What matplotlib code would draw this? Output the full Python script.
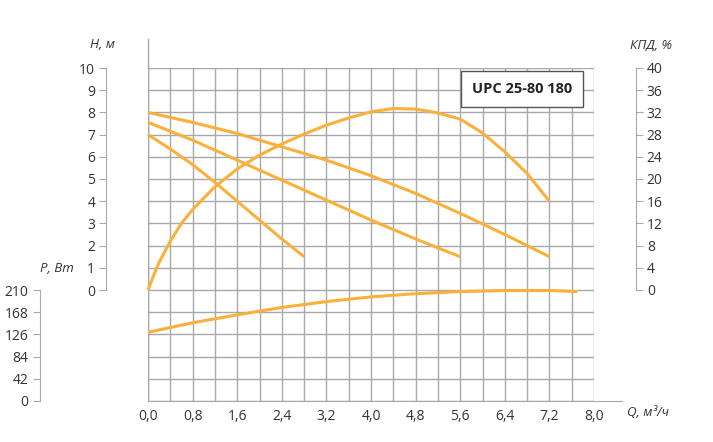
import matplotlib.pyplot as plt
import numpy as np

plt.rcParams['font.family'] = ['Open Sans', 'DejaVu Sans']

# H-Q curves (m)
q_a = [0, 0.4, 0.8, 1.2, 1.6, 2.0, 2.4, 2.8]
h_a = [7.0, 6.35, 5.65, 4.85, 4.0, 3.15, 2.3, 1.5]
q_b = [0, 0.8, 1.6, 2.4, 3.2, 4.0, 4.8, 5.6]
h_b = [7.55, 6.75, 5.85, 4.95, 4.05, 3.15, 2.3, 1.5]
q_c = [0, 0.8, 1.6, 2.4, 3.2, 4.0, 4.8, 5.6, 6.4, 7.2]
h_c = [8.0, 7.55, 7.05, 6.45, 5.85, 5.15, 4.35, 3.45, 2.5, 1.5]
# efficiency (%)
q_eff = [0, 0.1, 0.2, 0.4, 0.6, 0.8, 1.2, 1.6, 2.0, 2.4, 2.8, 3.2, 3.6, 4.0, 4.4, 4.8,
         5.2, 5.6, 6.0, 6.4, 6.8, 7.2]
eff = [0, 2.6, 5, 8.8, 12, 14.5, 18.6, 21.8, 24.3, 26.3, 28.1, 29.7, 31.0, 32.1, 32.7, 32.6,
       31.9, 30.8, 28.3, 24.9, 21.0, 16]
# power (W)
q_p = [0, 0.8, 1.6, 2.4, 3.2, 4.0, 4.8, 5.6, 6.4, 7.2, 7.7]
p_w = [130, 148, 163, 177, 188, 197, 203, 207, 209, 209, 207]

x_ticks = np.arange(0, 8.01, 0.8)
x_labels = [f"{v:.1f}".replace('.', ',') for v in x_ticks]

W, H = 713, 442
fig = plt.figure(figsize=(W / 100, H / 100), dpi=100)
L = 148 / W
Wd = 446 / W
ax_h = fig.add_axes([L, (H - 290) / H, Wd, 222 / H])
ax_p = fig.add_axes([L, (H - 401) / H, Wd, 111 / H], sharex=ax_h)
ax_e = ax_h.twinx()

orange = '#FBB03B'
grid_c = '#a8a8a8'
txt_c = '#333333'

for ax in (ax_h, ax_p):
    ax.set_xlim(0, 8)
    ax.set_xticks(np.arange(0, 8.01, 0.4))
    ax.grid(axis='x', color=grid_c, lw=1)
    for s in ('top', 'right'):
        ax.spines[s].set_visible(False)
    ax.spines['left'].set_color(grid_c)
    ax.spines['bottom'].set_visible(False)
    ax.tick_params(axis='x', length=0, labelbottom=False)
    ax.set_axisbelow(True)

ax_h.set_ylim(0, 10)
ax_p.set_ylim(0, 210)
ax_e.set_ylim(0, 40)

for y in range(0, 11):
    ax_h.axhline(y, color=grid_c, lw=1, zorder=0)
for y in range(0, 211, 42):
    ax_p.axhline(y, color=grid_c, lw=1, zorder=0)

# left offset axes
ax_h.spines['left'].set_position(('outward', 30))
ax_h.set_yticks(range(0, 11))
ax_p.spines['left'].set_position(('outward', 78))
ax_p.set_yticks(range(0, 211, 42))
for ax in (ax_h, ax_p):
    ax.tick_params(axis='y', length=5, color=grid_c, labelsize=10, labelcolor=txt_c, pad=3)
    ax.axvline(0, color=grid_c, lw=1, zorder=0)
ax_h.plot([0, 0], [10, 11.3], color=grid_c, lw=1, clip_on=False)

ax_e.spines['right'].set_position(('outward', 30))
ax_e.spines['right'].set_color(grid_c)
for s in ('top', 'left', 'bottom'):
    ax_e.spines[s].set_visible(False)
ax_e.set_yticks(range(0, 41, 4))
ax_e.tick_params(axis='y', length=5, color=grid_c, labelsize=10, labelcolor=txt_c, pad=3)

# x axis labels on lower axes
ax_p.spines['bottom'].set_visible(True)
ax_p.spines['bottom'].set_color(grid_c)
ax_p.spines['bottom'].set_bounds(0, 8.5)
ax_p.tick_params(axis='x', labelbottom=True, labelsize=10, labelcolor=txt_c, pad=6)
ax_p.set_xticks(np.arange(0, 8.01, 0.4))
ax_p.set_xticklabels([x_labels[i // 2] if i % 2 == 0 else '' for i in range(21)])

kw = dict(color=orange, lw=2.2, solid_capstyle='butt', solid_joinstyle='round', clip_on=False)
ax_h.plot(q_a, h_a, **kw)
ax_h.plot(q_b, h_b, **kw)
ax_h.plot(q_c, h_c, **kw)
ax_e.plot(q_eff, eff, **kw)
ax_p.plot(q_p, p_w, **kw)

fig.text(90 / W, 1 - 45 / H, 'H, м', style='italic', fontsize=9.5, color=txt_c, va='center')
fig.text(40 / W, 1 - 268 / H, 'P, Вт', style='italic', fontsize=9.5, color=txt_c, va='center')
fig.text(630 / W, 1 - 45 / H, 'КПД, %', style='italic', fontsize=9.5, color=txt_c, va='center')
fig.text(627 / W, 1 - 412 / H, 'Q, м³/ч', style='italic', fontsize=9.5, color=txt_c, va='center')
fig.text(522 / W, 1 - 89 / H, 'UPC 25-80 180', fontsize=10.5, fontweight='bold', color='#222222',
         ha='center', va='center',
         bbox=dict(boxstyle='square,pad=0.75', fc='white', ec='#555555', lw=1))

fig.savefig('out.png', dpi=100)
